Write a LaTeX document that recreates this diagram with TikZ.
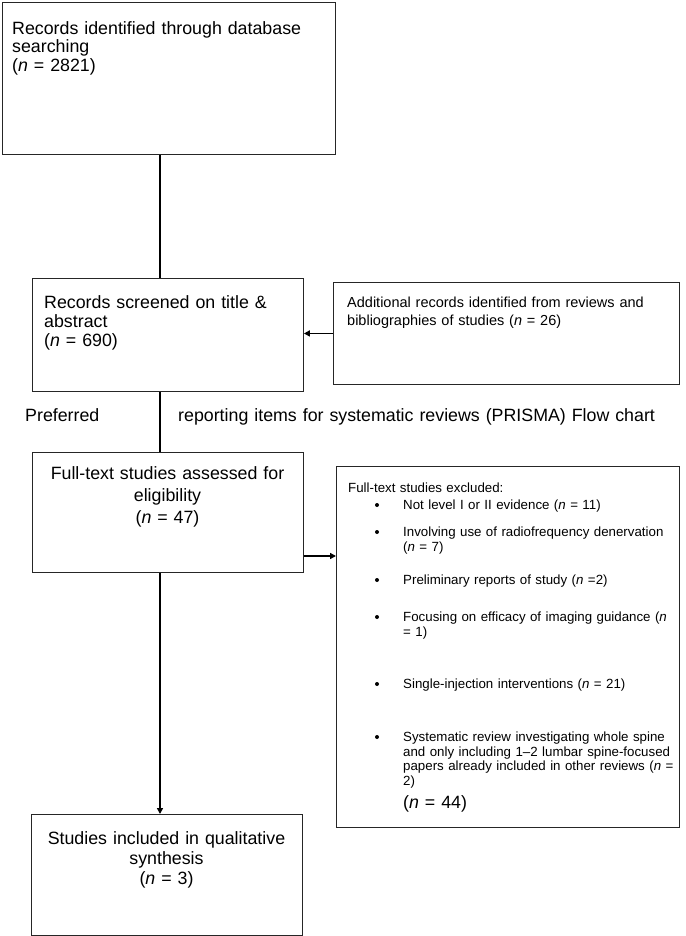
\documentclass[tikz,border=0pt]{standalone}
\usepackage{fontspec}
\setmainfont{Liberation Sans}
\usetikzlibrary{arrows.meta}

\begin{document}
\begin{tikzpicture}[x=1pt,y=-1pt,
  box/.style={draw=black!85,line width=.9pt,anchor=north west,inner sep=0pt},
  boxtxt/.style={font=\fontsize{17.8}{#1}\selectfont,inner sep=0pt,text width=320pt,align=left,anchor=base west},
  smalltxt/.style={font=\fontsize{13.3}{14.5}\selectfont,inner sep=0pt,text width=300pt,align=left,anchor=base west},
  dot/.style={circle,fill=black,inner sep=0pt,minimum size=4pt},
  link/.style={line width=1.7pt},
  arr/.style={line width=1.7pt,-{Triangle[length=6pt,width=6pt]}}]
\useasboundingbox (0,0) rectangle (685,936);
\coordinate (spine) at (160,0);
\coordinate (exclarrow) at (0,556);
% boxes
\node[box,minimum width=333pt,minimum height=152pt] (ident) at (2,2) {};
\node[box,minimum width=271pt,minimum height=113pt] (screen) at (32,278) {};
\node[box,minimum width=346pt,minimum height=102pt] (addl) at (333,282) {};
\node[box,minimum width=271pt,minimum height=120pt] (full) at (32,452) {};
\node[box,minimum width=343pt,minimum height=361pt] (excl) at (336,466) {};
\node[box,minimum width=271pt,minimum height=121pt] (incl) at (31,814) {};
% texts
\node[boxtxt=18.5] (identtxt) at (12,34.4) {Records identified through database\\searching\\(\textit{n} = 2821)};
\node[boxtxt=19] (screentxt) at (44,308.4) {Records screened on title \&\\abstract\\(\textit{n} = 690)};
\node[boxtxt=18,font=\fontsize{14.5}{18}\selectfont] (addltxt) at (347,307.2) {Additional records identified from reviews and\\bibliographies of studies (\textit{n} = 26)};
\node[boxtxt=18.5] (pref) at (25,421.4) {Preferred};
\node[boxtxt=18.5,text width=500pt] (prisma) at (178,421.4) {reporting items for systematic reviews (PRISMA) Flow chart};
\node[boxtxt=22,text width=271pt,align=center,anchor=base] (fulltxt) at (167.5,479.4) {Full-text studies assessed for\\eligibility\\(\textit{n} = 47)};
\node[boxtxt=20,text width=271pt,align=center,anchor=base] (incltxt) at (166.5,844.4) {Studies included in qualitative\\synthesis\\(\textit{n} = 3)};
\node[smalltxt] (excltxt) at (348,492.5) {Full-text studies excluded:};
\foreach \y/\txt [count=\i] in {505/{Not level I or II evidence (\textit{n} = 11)},
  532/{Involving use of radiofrequency denervation\\(\textit{n} = 7)},
  580/{Preliminary reports of study (\textit{n} =2)},
  617/{Focusing on efficacy of imaging guidance (\textit{n}\\= 1)},
  684/{Single-injection interventions (\textit{n} = 21)},
  737/{Systematic review investigating whole spine\\and only including 1–2 lumbar spine-focused\\papers already included in other reviews (\textit{n} =\\2)}}
  {\node[dot] (dot\i) at (377,\y) {};
   \node[smalltxt] (item\i) at (403,\y+4.8) {\txt};}
\node[boxtxt=20] (excltotal) at (403,808) {(\textit{n} = 44)};
% connectors
\draw[link] (ident.south -| spine) -- (screen.north -| spine);
\draw[link] (screen.south -| spine) -- (full.north -| spine);
\draw[arr] (full.south -| spine) -- (incl.north -| spine);
\draw[arr] (addl.west) -- (addl.west -| screen.east);
\draw[arr] (full.east |- exclarrow) -- (excl.west |- exclarrow);
\end{tikzpicture}
\end{document}
